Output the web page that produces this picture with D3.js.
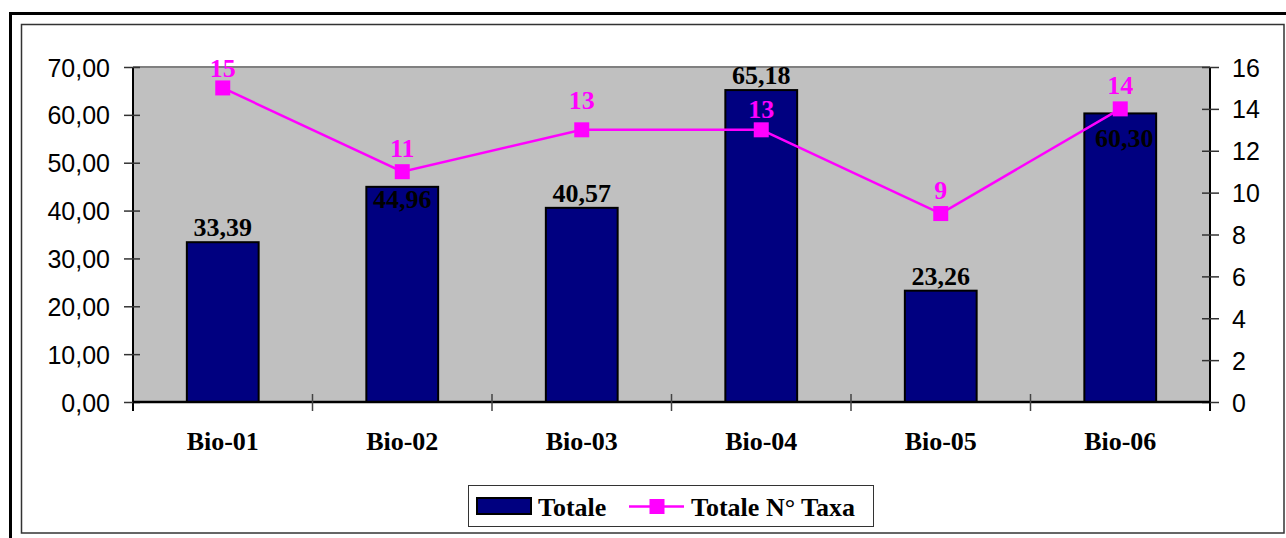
<!DOCTYPE html>
<html>
<head>
<meta charset="utf-8">
<script src="https://cdn.jsdelivr.net/npm/d3@7"></script>
<style>
  body { margin: 0; background: #fff; }
  svg { display: block; }
  .num { font-family: "Liberation Sans", Arial, sans-serif; font-size: 25px; fill: #000; }
  .cat { font-family: "Liberation Serif", "Times New Roman", serif; font-size: 26px; font-weight: bold; fill: #000; }
</style>
</head>
<body>
<svg id="chart" width="1286" height="538"></svg>
<script>
// Sampling stations
const categories = ["Bio-01", "Bio-02", "Bio-03", "Bio-04", "Bio-05", "Bio-06"];
// "Totale" bar series (left axis)
const totale = [33.39, 44.96, 40.57, 65.18, 23.26, 60.30];
// "Totale N° Taxa" line series (right axis)
const taxa = [15, 11, 13, 13, 9, 14];
// Axis tick values
const leftTicks = [0, 10, 20, 30, 40, 50, 60, 70];
const rightTicks = [0, 2, 4, 6, 8, 10, 12, 14, 16];
const seriesNames = ["Totale", "Totale N° Taxa"];

const svg = d3.select("#chart");
const plot = { left: 133, right: 1210, top: 67, bottom: 402 };
const fmtComma = d => d3.format(".2f")(d).replace(".", ",");
const NAVY = "#000080", MAGENTA = "#FF00FF", PLOT_BG = "#C0C0C0";

// Frames around the chart
svg.append("rect").attr("x", 10.5).attr("y", 13.5).attr("width", 1290).attr("height", 540)
  .attr("fill", "none").attr("stroke", "#000").attr("stroke-width", 3);
svg.append("rect").attr("x", 21.5).attr("y", 24.5).attr("width", 1262.5).attr("height", 508.5)
  .attr("fill", "#fff").attr("stroke", "#333").attr("stroke-width", 1.5);

// Scales
const x = d3.scaleBand().domain(categories).range([plot.left, plot.right])
  .paddingInner(0.6).paddingOuter(0.3);
const yL = d3.scaleLinear().domain([0, 70]).range([plot.bottom, plot.top]);
const yR = d3.scaleLinear().domain([0, 16]).range([plot.bottom, plot.top]);
const cx = c => x(c) + x.bandwidth() / 2;

// Plot area
svg.append("rect").attr("x", plot.left).attr("y", plot.top)
  .attr("width", plot.right - plot.left).attr("height", plot.bottom - plot.top)
  .attr("fill", PLOT_BG);
svg.append("line").attr("x1", plot.left).attr("x2", plot.right)
  .attr("y1", plot.top).attr("y2", plot.top)
  .attr("stroke", "#808080").attr("stroke-width", 2);

// Bars
svg.append("g").selectAll("rect").data(categories).join("rect")
  .attr("x", c => x(c))
  .attr("y", (c, i) => yL(totale[i]))
  .attr("width", x.bandwidth())
  .attr("height", (c, i) => plot.bottom - yL(totale[i]))
  .attr("fill", NAVY).attr("stroke", "#000").attr("stroke-width", 2);

// Left axis with crossing ticks
const gL = svg.append("g").attr("transform", `translate(${plot.left},0)`)
  .call(d3.axisLeft(yL).tickValues(leftTicks).tickSize(9).tickPadding(14).tickFormat(fmtComma));
gL.select(".domain").attr("stroke", "#000").attr("stroke-width", 2)
  .attr("d", `M0,${plot.top}V${plot.bottom + 9}`);
gL.selectAll(".tick line").attr("x1", 7).attr("stroke", "#333").attr("stroke-width", 1.5);
gL.selectAll(".tick text").attr("class", "num").attr("dy", "0.36em");
gL.attr("font-size", null).attr("font-family", null);

// Right axis with crossing ticks
const gR = svg.append("g").attr("transform", `translate(${plot.right},0)`)
  .call(d3.axisRight(yR).tickValues(rightTicks).tickSize(9).tickPadding(13).tickFormat(d3.format("d")));
gR.select(".domain").attr("stroke", "#000").attr("stroke-width", 2)
  .attr("d", `M0,${plot.top}V${plot.bottom + 9}`);
gR.selectAll(".tick line").attr("x1", -8).attr("stroke", "#333").attr("stroke-width", 1.5);
gR.selectAll(".tick text").attr("class", "num").attr("dy", "0.36em");
gR.attr("font-size", null).attr("font-family", null);

// Category axis: labels under each band, ticks on the band boundaries
const gB = svg.append("g").attr("transform", `translate(0,${plot.bottom})`)
  .call(d3.axisBottom(x).tickSize(0).tickPadding(30));
gB.select(".domain").attr("stroke", "#000").attr("stroke-width", 2.5)
  .attr("d", `M${plot.left},0H${plot.right}`);
gB.selectAll(".tick text").attr("class", "cat");
gB.attr("font-size", null).attr("font-family", null);
const boundaries = d3.range(categories.length + 1)
  .map(i => plot.left + i * x.step());
gB.selectAll(".btick").data(boundaries.slice(1, -1)).join("line")
  .attr("class", "btick")
  .attr("x1", d => d).attr("x2", d => d).attr("y1", -8).attr("y2", 9)
  .attr("stroke", "#444").attr("stroke-width", 1.5);

// Line series
const line = d3.line().x((d, i) => cx(categories[i])).y(d => yR(d));
svg.append("path").datum(taxa).attr("d", line)
  .attr("fill", "none").attr("stroke", MAGENTA).attr("stroke-width", 2.5);
svg.append("g").selectAll("rect").data(taxa).join("rect")
  .attr("x", (d, i) => cx(categories[i]) - 7.5).attr("y", d => yR(d) - 7.5)
  .attr("width", 15).attr("height", 15).attr("fill", MAGENTA);

// Bar value labels (two of them sit inside the bar top)
const barLabelShift = { "Bio-02": [0, 21], "Bio-06": [4, 34] };
svg.append("g").selectAll("text").data(categories).join("text")
  .attr("class", "cat").attr("text-anchor", "middle")
  .attr("x", c => cx(c) + (barLabelShift[c] ? barLabelShift[c][0] : 0))
  .attr("y", (c, i) => yL(totale[i]) + (barLabelShift[c] ? barLabelShift[c][1] : -6))
  .text((c, i) => fmtComma(totale[i]));

// Line value labels, lifted above the markers
const taxaLabelLift = { "Bio-01": 11, "Bio-03": 21, "Bio-04": 12 };
svg.append("g").selectAll("text").data(taxa).join("text")
  .attr("class", "cat").attr("text-anchor", "middle").style("fill", MAGENTA)
  .attr("x", (d, i) => cx(categories[i]))
  .attr("y", (d, i) => yR(d) - (taxaLabelLift[categories[i]] || 15))
  .text(d => d);

// Legend
const lg = svg.append("g");
lg.append("rect").attr("x", 468.5).attr("y", 485.5).attr("width", 405).attr("height", 41)
  .attr("fill", "#fff").attr("stroke", "#333").attr("stroke-width", 1);
lg.append("rect").attr("x", 477).attr("y", 498).attr("width", 54).attr("height", 16)
  .attr("fill", NAVY).attr("stroke", "#000").attr("stroke-width", 2);
lg.append("text").attr("class", "cat").attr("x", 538).attr("y", 516).text(seriesNames[0]);
lg.append("line").attr("x1", 629).attr("x2", 684).attr("y1", 506.5).attr("y2", 506.5)
  .attr("stroke", MAGENTA).attr("stroke-width", 2.5);
lg.append("rect").attr("x", 649.5).attr("y", 499).attr("width", 15).attr("height", 15).attr("fill", MAGENTA);
lg.append("text").attr("class", "cat").attr("x", 691).attr("y", 516).text(seriesNames[1]);
</script>
</body>
</html>
